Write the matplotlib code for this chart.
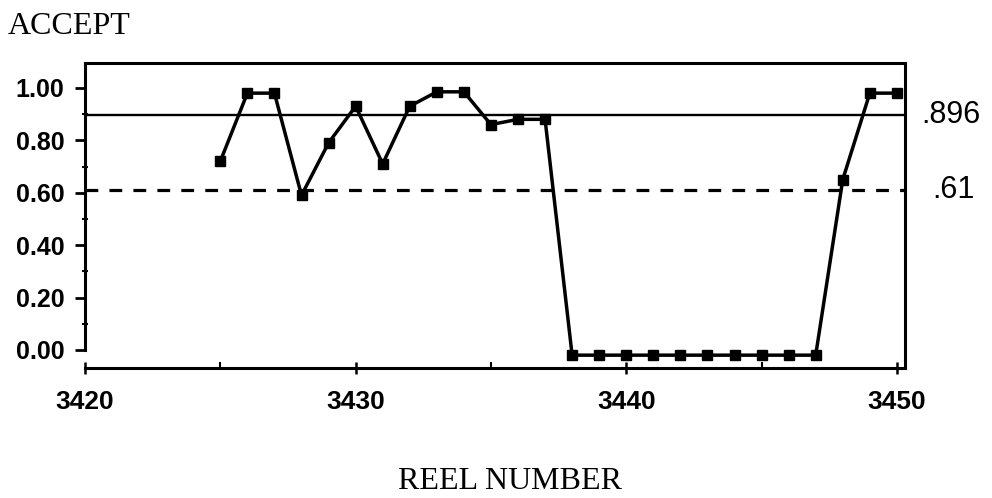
import matplotlib
matplotlib.use("Agg")
import matplotlib.pyplot as plt
from matplotlib.ticker import MultipleLocator, FixedLocator

# Acceptance rate per reel
reels = [3425, 3426, 3427, 3428, 3429, 3430, 3431, 3432, 3433, 3434, 3435,
         3436, 3437, 3438, 3439, 3440, 3441, 3442, 3443, 3444, 3445, 3446,
         3447, 3448, 3449, 3450]
accept = [0.72, 0.98, 0.98, 0.59, 0.79, 0.93, 0.71, 0.93, 0.985, 0.985, 0.86,
          0.88, 0.88, -0.02, -0.02, -0.02, -0.02, -0.02, -0.02, -0.02, -0.02,
          -0.02, -0.02, 0.65, 0.98, 0.98]

# Reference levels
upper_level = 0.896
lower_level = 0.61
upper_label = ".896"
lower_label = ".61"

x_ticks = [3420, 3430, 3440, 3450]
x_minor = [3425, 3435, 3445]
y_ticks = [0.0, 0.2, 0.4, 0.6, 0.8, 1.0]

sans = "Liberation Sans"
serif = "Liberation Serif"

fig = plt.figure(figsize=(9.92, 4.98), dpi=100)
ax = fig.add_axes([85 / 992, 1 - 368 / 498, 820 / 992, 305 / 498])

ax.plot(reels, accept, color="black", lw=2.5, marker="s", ms=7.5,
        mfc="black", mec="black", zorder=3)

ax.axhline(upper_level, color="black", lw=1.7, zorder=2)
ax.axhline(lower_level, color="black", lw=2.3, ls=(0, (4, 3.5)), zorder=2)

ax.set_xlim(3420, 3450.3)
ax.set_ylim(-0.069, 1.095)

# spines
for s in ax.spines.values():
    s.set_linewidth(2.2)
ax.spines["left"].set_bounds(0.0, 1.095)

# y ticks
ax.yaxis.set_major_locator(FixedLocator(y_ticks))
ax.yaxis.set_minor_locator(MultipleLocator(0.1))
ax.set_yticklabels([f"{v:.2f}" for v in y_ticks], fontfamily=sans,
                   fontsize=18, fontweight="bold")
ax.tick_params(axis="y", which="major", direction="out", length=7,
               width=2, pad=8)
ax.tick_params(axis="y", which="minor", direction="inout", length=4,
               width=1.5)

# x ticks
ax.xaxis.set_major_locator(FixedLocator(x_ticks))
ax.xaxis.set_minor_locator(FixedLocator(x_minor))
ax.set_xticklabels([str(v) for v in x_ticks], fontfamily=sans, fontsize=19,
                   fontweight="bold")
ax.tick_params(axis="x", which="major", direction="inout", length=8,
               width=1.8, pad=12)
ax.tick_params(axis="x", which="minor", direction="in", length=4, width=1.5)

# level labels at the right edge
ax.text(1.02, upper_level, upper_label, transform=ax.get_yaxis_transform(),
        ha="left", va="center", fontfamily=sans, fontsize=22)
ax.text(1.033, lower_level, lower_label, transform=ax.get_yaxis_transform(),
        ha="left", va="center", fontfamily=sans, fontsize=22)

fig.text(8 / 992, 1 - 27 / 498, "ACCEPT", ha="left", va="center",
         fontfamily=serif, fontsize=23)
fig.text(510 / 992, 1 - 481 / 498, "REEL NUMBER", ha="center", va="center",
         fontfamily=serif, fontsize=23)

fig.savefig("out.png", dpi=100)
